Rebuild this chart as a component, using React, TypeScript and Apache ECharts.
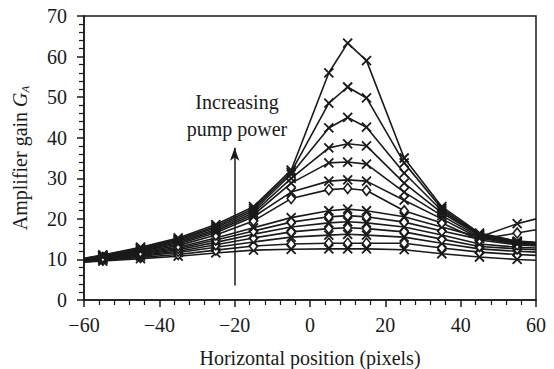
import React, { useEffect, useRef } from "react";
import * as echarts from "echarts";

const xPositions = [-60, -55, -45, -35, -25, -15, -5, 5, 10, 15, 25, 35, 45, 55, 60];

// Gain curves, lowest to highest pump power
const gainCurves: number[][] = [
  [9.3, 9.6, 10.2, 10.8, 11.6, 12.3, 12.5, 12.6, 12.6, 12.6, 12.4, 11.4, 10.6, 10.0, 9.8],
  [9.4, 9.8, 10.5, 11.2, 12.3, 13.3, 13.8, 14.0, 14.0, 14.0, 14.0, 12.8, 11.8, 11.2, 11.0],
  [9.5, 10.0, 10.8, 11.7, 13.0, 14.3, 15.5, 16.0, 16.2, 16.0, 15.5, 14.0, 12.6, 12.0, 11.8],
  [9.6, 10.1, 11.0, 12.0, 13.6, 15.3, 16.8, 17.6, 17.8, 17.6, 16.8, 15.0, 13.2, 12.6, 12.4],
  [9.7, 10.2, 11.2, 12.4, 14.2, 16.2, 18.0, 19.0, 19.3, 19.0, 18.0, 16.0, 13.8, 13.0, 12.8],
  [9.8, 10.3, 11.4, 12.7, 14.8, 17.0, 19.2, 20.5, 20.8, 20.5, 19.2, 17.0, 15.0, 16.5, 17.3],
  [9.8, 10.4, 11.6, 13.0, 15.3, 17.8, 20.3, 22.0, 22.4, 22.0, 20.5, 18.0, 15.5, 18.8, 20.0],
  [9.9, 10.5, 11.8, 13.4, 16.0, 19.5, 25.0, 27.2, 27.5, 27.0, 22.0, 19.0, 14.8, 13.6, 13.3],
  [10.0, 10.6, 12.0, 13.8, 16.6, 20.5, 26.6, 29.3, 29.6, 29.3, 24.6, 20.0, 15.2, 13.8, 13.5],
  [10.0, 10.7, 12.2, 14.1, 17.0, 21.0, 28.8, 33.8, 34.0, 33.5, 26.6, 20.8, 15.5, 14.0, 13.7],
  [10.1, 10.8, 12.4, 14.4, 17.4, 21.5, 30.0, 37.5, 38.5, 38.0, 28.8, 21.5, 15.8, 14.2, 13.9],
  [10.1, 10.9, 12.6, 14.7, 17.8, 22.0, 31.0, 42.4, 45.0, 42.6, 31.3, 22.0, 16.0, 14.3, 14.0],
  [10.2, 11.0, 12.8, 15.0, 18.2, 22.5, 31.5, 48.5, 52.5, 49.8, 33.8, 22.5, 16.2, 14.4, 14.1],
  [10.3, 11.1, 13.0, 15.3, 18.6, 23.0, 32.0, 56.0, 63.3, 59.0, 35.0, 23.0, 16.5, 14.5, 14.2],
];

// marker kind per curve: "x" cross or "d" hollow diamond
const markerKinds = ["x", "d", "x", "d", "x", "d", "x", "d", "x", "x", "x", "x", "x", "x"];

const xTicks = [-60, -40, -20, 0, 20, 40, 60];
const yTicks = [0, 10, 20, 30, 40, 50, 60, 70];

const arrowX = -20;
const arrowFrom = 3.6;
const arrowTo = 37.5;
const annotationLines = ["Increasing", "pump power"];

const INK = "#1a1a1a";
const FONT = "Liberation Serif";
const CROSS = "path://M0,0L10,10M10,0L0,10";

export default function App() {
  const ref = useRef<HTMLDivElement>(null);
  useEffect(() => {
    if (!ref.current) return;
    const chart = echarts.init(ref.current, undefined, { renderer: "svg" });
    const fmt = (v: number) => String(v).replace("-", "\u2212");
    const series: any[] = gainCurves.map((vals, i) => {
      const kind = markerKinds[i];
      const isCross = kind === "x";
      return {
        type: "line",
        data: vals.map((v, j) => {
          const edge = j === 0 || j === xPositions.length - 1;
          return edge ? { value: [xPositions[j], v], symbol: "none" } : { value: [xPositions[j], v] };
        }),
        symbol: isCross ? CROSS : "diamond",
        symbolSize: isCross ? [9, 9] : [8, 10],
        showAllSymbol: true,
        lineStyle: { color: INK, width: 1.6 },
        itemStyle: isCross
          ? { color: INK, borderColor: INK, borderWidth: 1.8 }
          : { color: "#ffffff", borderColor: INK, borderWidth: 1.6 },
        z: 2,
        markLine:
          i === 0
            ? {
                silent: true,
                symbol: ["none", "arrow"],
                symbolSize: [7, 13],
                lineStyle: { color: INK, width: 1.5, type: "solid" },
                label: { show: false },
                data: [[{ coord: [arrowX, arrowFrom] }, { coord: [arrowX, arrowTo] }]],
              }
            : undefined,
      };
    });
    chart.setOption({
      animation: false,
      backgroundColor: "#ffffff",
      textStyle: { fontFamily: FONT },
      grid: {
        left: 84,
        right: 18,
        top: 16,
        bottom: 69,
        outerBoundsMode: "none",
        containLabel: false,
        show: true,
        borderColor: INK,
        borderWidth: 1.5,
        backgroundColor: "transparent",
      },
      xAxis: {
        type: "value",
        min: xTicks[0],
        max: xTicks[xTicks.length - 1],
        interval: 20,
        name: "Horizontal position (pixels)",
        nameLocation: "middle",
        nameGap: 48,
        nameTextStyle: { fontFamily: FONT, fontSize: 20, color: INK },
        axisLine: { show: true, onZero: false, lineStyle: { color: INK, width: 1.5 } },
        axisTick: { show: true, length: 7, lineStyle: { color: INK, width: 1.5 } },
        minorTick: { show: true, splitNumber: 5, length: 5, lineStyle: { color: INK, width: 1.2 } },
        splitLine: { show: false },
        axisLabel: { fontFamily: FONT, fontSize: 20, color: INK, margin: 15, formatter: fmt },
      },
      yAxis: {
        type: "value",
        min: yTicks[0],
        max: yTicks[yTicks.length - 1],
        interval: 10,
        name: "Amplifier gain {i|G}{s|A}",
        nameLocation: "middle",
        nameGap: 54,
        nameRotate: 90,
        nameTextStyle: {
          fontFamily: FONT,
          fontSize: 20,
          color: INK,
          rich: {
            i: { fontFamily: FONT, fontSize: 20, fontStyle: "italic", color: INK },
            s: { fontFamily: FONT, fontSize: 11, fontStyle: "italic", color: INK, verticalAlign: "bottom", padding: [10, 0, 0, 0] },
          },
        },
        axisLine: { show: true, onZero: false, lineStyle: { color: INK, width: 1.5 } },
        axisTick: { show: true, length: 7, lineStyle: { color: INK, width: 1.5 } },
        minorTick: { show: true, splitNumber: 5, length: 5, lineStyle: { color: INK, width: 1.2 } },
        splitLine: { show: false },
        axisLabel: { fontFamily: FONT, fontSize: 20, color: INK, margin: 17 },
      },
      graphic: [
        {
          type: "text",
          x: 237,
          y: 88,
          style: {
            text: annotationLines.join("\n"),
            fontFamily: FONT,
            fontSize: 20,
            fill: INK,
            align: "center",
            verticalAlign: "top",
            lineHeight: 27,
          },
        },
      ],
      series,
    });
    return () => chart.dispose();
  }, []);
  return <div ref={ref} style={{ width: 554, height: 369, position: "absolute", left: 0, top: 0 }} />;
}
